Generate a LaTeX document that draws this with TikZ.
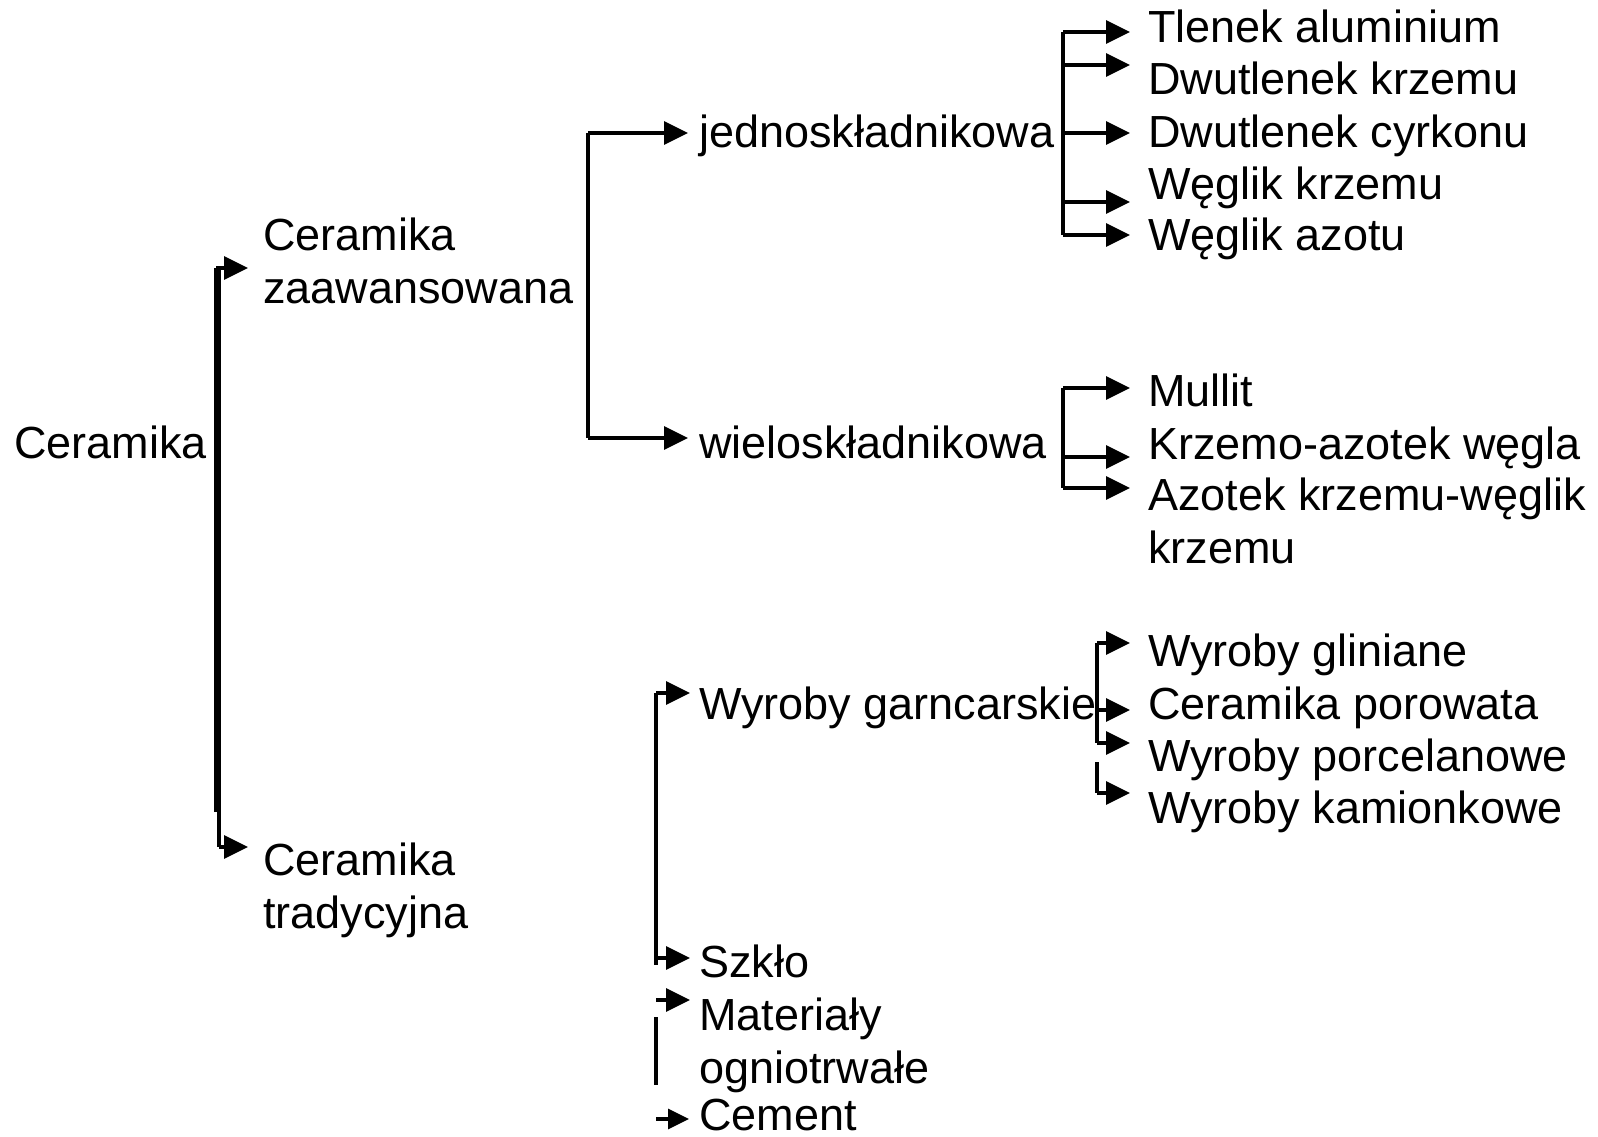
\documentclass[tikz,border=0pt]{standalone}
\usepackage{fontspec}
\setmainfont{Liberation Sans}
\usetikzlibrary{arrows.meta}
\begin{document}
\begin{tikzpicture}[x=1pt, y=-1pt,
  lbl/.style={anchor=base west, inner sep=0pt, align=left,
              font=\fontsize{45}{53}\selectfont},
  conn/.style={line width=3.4pt, -{Triangle[length=24pt,width=23pt]}},
  smallconn/.style={line width=3.4pt, -{Triangle[length=21pt,width=20pt]}},
  spine/.style={line width=3.4pt}]
\useasboundingbox (0,0) rectangle (1598,1137);

% root and first level (two-line labels are anchored on their last line)
\node[lbl] (root) at (14,458) {Ceramika};
\node[lbl] (adv)  at (263,303) {Ceramika\\zaawansowana};
\node[lbl] (trad) at (263,928) {Ceramika\\tradycyjna};

% second level
\node[lbl] (mono)  at (699,148) {jednoskładnikowa};
\node[lbl] (multi) at (699,458) {wieloskładnikowa};
\node[lbl] (pot)   at (699,719) {Wyroby garncarskie};
\node[lbl] (glass) at (699,977) {Szkło};
\node[lbl] (refr)  at (699,1083) {Materiały\\ogniotrwałe};
\node[lbl] (cem)   at (699,1130) {Cement};

% single-component ceramics
\node[lbl] (a1) at (1148,43)  {Tlenek aluminium};
\node[lbl] (a2) at (1148,95)  {Dwutlenek krzemu};
\node[lbl] (a3) at (1148,147) {Dwutlenek cyrkonu};
\node[lbl] (a4) at (1148,199) {Węglik krzemu};
\node[lbl] (a5) at (1148,250) {Węglik azotu};

% multi-component ceramics
\node[lbl] (b1) at (1148,406) {Mullit};
\node[lbl] (b2) at (1148,459) {Krzemo-azotek węgla};
\node[lbl] (b3) at (1148,563) {Azotek krzemu-węglik\\krzemu};

% pottery
\node[lbl] (c1) at (1148,666) {Wyroby gliniane};
\node[lbl] (c2) at (1148,719) {Ceramika porowata};
\node[lbl] (c3) at (1148,771) {Wyroby porcelanowe};
\node[lbl] (c4) at (1148,823) {Wyroby kamionkowe};

% bracket from the root
\coordinate (r0) at (216,268);
\coordinate (r0a) at (216,812);
\coordinate (r0b) at (219,268);
\coordinate (r0c) at (219,847);
\draw[spine] (r0a) -- (r0);
\draw[conn, shorten >=15pt] (r0) -- (r0 -| adv.west);
\draw[spine] (r0b) -- (r0c);
\draw[conn, shorten >=15pt] (r0c) -- (r0c -| trad.west);

% advanced ceramics
\coordinate (s1) at (588,133);
\coordinate (s2) at (588,438);
\draw[spine] (s1) -- (s2);
\draw[conn, shorten >=11pt] (s1) -- (s1 -| mono.west);
\draw[conn, shorten >=11pt] (s2) -- (s2 -| multi.west);

% traditional ceramics
\coordinate (t1) at (656,693);
\coordinate (t2) at (656,958);
\coordinate (t2e) at (656,965);
\coordinate (t3) at (656,1000);
\coordinate (t4) at (656,1017);
\coordinate (t5) at (656,1085);
\coordinate (t6) at (656,1119);
\draw[spine] (t1) -- (t2e);
\draw[conn, shorten >=9pt] (t1) -- (t1 -| pot.west);
\draw[conn, shorten >=9pt] (t2) -- (t2 -| glass.west);
\draw[conn, shorten >=9pt] (t3) -- (t3 -| refr.west);
\draw[spine] (t4) -- (t5);
\draw[smallconn, shorten >=10pt] (t6) -- (t6 -| cem.west);

% single-component branches
\coordinate (u1) at (1063,32);
\coordinate (u2) at (1063,65);
\coordinate (u3) at (1063,133);
\coordinate (u4) at (1063,202);
\coordinate (u5) at (1063,235);
\draw[spine] (u1) -- (u5);
\foreach \p/\n in {u1/a1,u2/a2,u3/a3,u4/a4,u5/a5}
  \draw[conn, shorten >=18pt] (\p) -- (\p -| \n.west);

% multi-component branches
\coordinate (v1) at (1063,388);
\coordinate (v2) at (1063,457);
\coordinate (v3) at (1063,488);
\draw[spine] (v1) -- (v3);
\foreach \p/\n in {v1/b1,v2/b2,v3/b3}
  \draw[conn, shorten >=18pt] (\p) -- (\p -| \n.west);

% pottery branches
\coordinate (w1) at (1097,643);
\coordinate (w2) at (1097,710);
\coordinate (w3) at (1097,743);
\coordinate (w4) at (1097,762);
\coordinate (w5) at (1097,793);
\draw[spine] (w1) -- (w3);
\draw[spine] (w4) -- (w5);
\foreach \p/\n in {w1/c1,w2/c2,w3/c3,w5/c4}
  \draw[conn, shorten >=18pt] (\p) -- (\p -| \n.west);
\end{tikzpicture}
\end{document}
